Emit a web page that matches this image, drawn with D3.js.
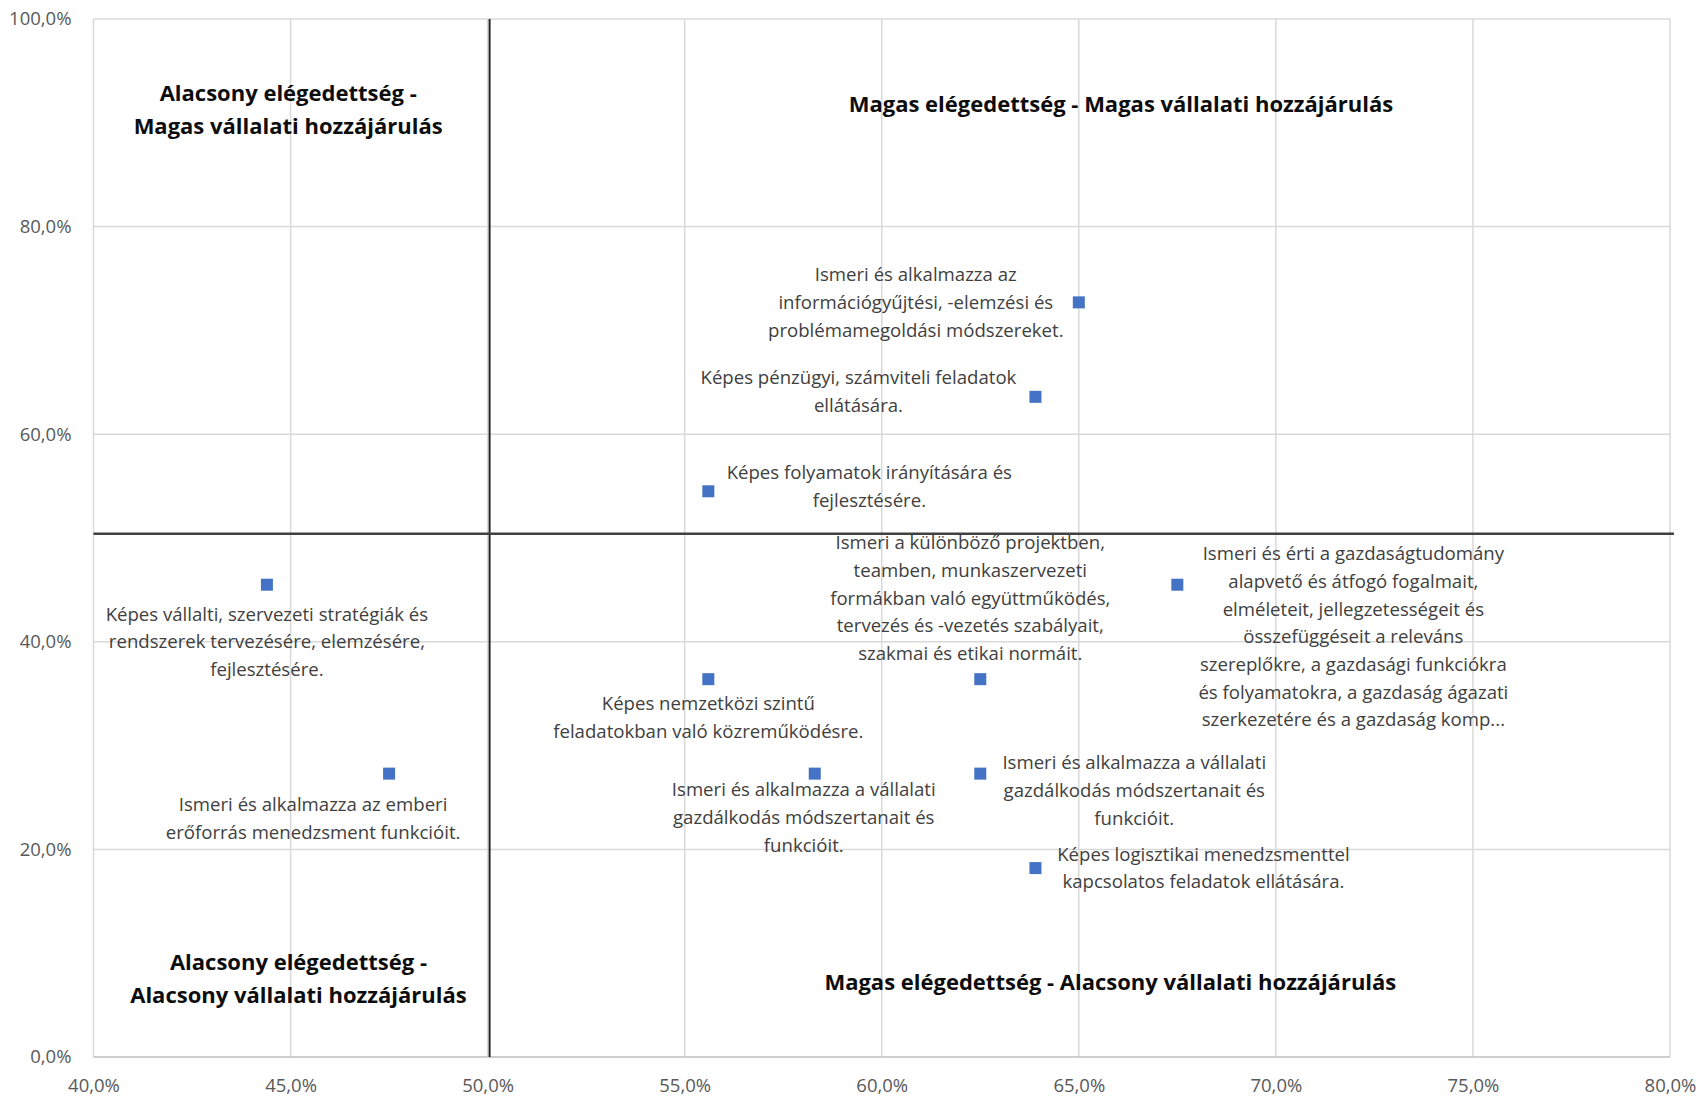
<!DOCTYPE html>
<html>
<head>
<meta charset="utf-8">
<script src="https://cdn.jsdelivr.net/npm/d3@7"></script>
<style>
  body { margin: 0; background: #fff; }
  svg { display: block; font-family: "Open Sans", "Noto Sans", sans-serif; }
</style>
</head>
<body>
<div id="chart"></div>
<script>
// satisfaction (x) and company contribution (y) per competency
const satisfaction = [0.650, 0.639, 0.556, 0.444, 0.475, 0.556, 0.583, 0.625, 0.625, 0.639, 0.675]
const contribution = [0.727, 0.636, 0.545, 0.455, 0.273, 0.364, 0.273, 0.364, 0.273, 0.182, 0.455]

const competencies = [
  ["Ismeri és alkalmazza az", "információgyűjtési, -elemzési és", "problémamegoldási módszereket."],
  ["Képes pénzügyi, számviteli feladatok", "ellátására."],
  ["Képes folyamatok irányítására és", "fejlesztésére."],
  ["Képes vállalti, szervezeti stratégiák és", "rendszerek tervezésére, elemzésére,", "fejlesztésére."],
  ["Ismeri és alkalmazza az emberi", "erőforrás menedzsment funkcióit."],
  ["Képes nemzetközi szintű", "feladatokban való közreműködésre."],
  ["Ismeri és alkalmazza a vállalati", "gazdálkodás módszertanait és", "funkcióit."],
  ["Ismeri a különböző projektben,", "teamben, munkaszervezeti", "formákban való együttműködés,", "tervezés és -vezetés szabályait,", "szakmai és etikai normáit."],
  ["Ismeri és alkalmazza a vállalati", "gazdálkodás módszertanait és", "funkcióit."],
  ["Képes logisztikai menedzsmenttel", "kapcsolatos feladatok ellátására."],
  ["Ismeri és érti a gazdaságtudomány", "alapvető és átfogó fogalmait,", "elméleteit, jellegzetességeit és", "összefüggéseit a releváns", "szereplőkre, a gazdasági funkciókra", "és folyamatokra, a gazdaság ágazati", "szerkezetére és a gazdaság komp..."]
]

const xTicks = [0.40, 0.45, 0.50, 0.55, 0.60, 0.65, 0.70, 0.75, 0.80]
const yTicks = [0, 0.2, 0.4, 0.6, 0.8, 1.0]

const quadrantTitles = [
  ["Alacsony elégedettség -", "Magas vállalati hozzájárulás"],
  ["Magas elégedettség - Magas vállalati hozzájárulás"],
  ["Alacsony elégedettség -", "Alacsony vállalati hozzájárulás"],
  ["Magas elégedettség - Alacsony vállalati hozzájárulás"]
]
const quadrantCenters = [[0.4494, 0.913], [0.6607, 0.918], [0.452, 0.075], [0.658, 0.072]]

const splitX = 0.5005
const splitY = 0.504

// data-label offsets (px) from each marker to the label block centre
const labelOffsets = [[-163, 0], [-177, -5], [161, -5], [0, 57], [-76, 45], [0, 38],
  [-11, 44], [-10, -81], [154, 17], [168, 0], [176, 52]]

const width = 1698, height = 1096
const margin = { top: 19, right: 28, bottom: 39, left: 93.5 }

const huLocale = d3.formatLocale({ decimal: ",", thousands: " ", grouping: [3], currency: ["", " Ft"] })
const pct = huLocale.format(".1%")

const svg = d3.select("#chart").append("svg")
  .attr("width", width)
  .attr("height", height)

const x = d3.scaleLinear().domain([0.4, 0.8]).range([margin.left, width - margin.right])
const y = d3.scaleLinear().domain([0, 1]).range([height - margin.bottom, margin.top])

// gridlines
svg.append("g").selectAll("line")
  .data(xTicks)
  .enter().append("line")
  .attr("x1", d => x(d)).attr("x2", d => x(d))
  .attr("y1", y(0)).attr("y2", y(1))
  .attr("stroke", "#d9d9d9").attr("stroke-width", 1.5)

svg.append("g").selectAll("line")
  .data(yTicks)
  .enter().append("line")
  .attr("x1", x(0.4)).attr("x2", x(0.8))
  .attr("y1", d => y(d)).attr("y2", d => y(d))
  .attr("stroke", d => d === 0 ? "#bfbfbf" : "#d9d9d9").attr("stroke-width", 1.5)

// axes (labels only, Excel style)
const xAxis = svg.append("g")
  .attr("transform", `translate(0,${y(0) + 19})`)
  .call(d3.axisBottom(x).tickValues(xTicks).tickFormat(pct).tickSize(0))
const yAxis = svg.append("g")
  .attr("transform", `translate(${x(0.4) - 19},0)`)
  .call(d3.axisLeft(y).tickValues(yTicks).tickFormat(pct).tickSize(0))

;[xAxis, yAxis].forEach(a => {
  a.select(".domain").remove()
  a.selectAll("text")
    .attr("fill", "#595959")
    .style("font-size", "18.5px")
    .style("font-family", "'Open Sans', 'Noto Sans', sans-serif")
})

// quadrant dividers
svg.append("line")
  .attr("x1", x(splitX)).attr("x2", x(splitX))
  .attr("y1", y(1)).attr("y2", y(0))
  .attr("stroke", "#262626").attr("stroke-width", 2)
svg.append("line")
  .attr("x1", x(0.4)).attr("x2", x(0.801))
  .attr("y1", y(splitY)).attr("y2", y(splitY))
  .attr("stroke", "#404040").attr("stroke-width", 2.5)

// quadrant titles
const titleLine = 33
svg.append("g").selectAll("text")
  .data(quadrantTitles)
  .enter().append("text")
  .attr("text-anchor", "middle")
  .attr("font-weight", "bold")
  .attr("font-size", "22px")
  .attr("fill", "#0d0d0d")
  .each(function(lines, i) {
    const cx = x(quadrantCenters[i][0])
    const cy = y(quadrantCenters[i][1]) - (lines.length - 1) * titleLine / 2
    d3.select(this).selectAll("tspan")
      .data(lines)
      .enter().append("tspan")
      .attr("x", cx)
      .attr("y", (d, j) => cy + j * titleLine)
      .attr("dy", "0.35em")
      .text(d => d)
  })

// points
const points = satisfaction.map((s, i) => ({ x: s, y: contribution[i], label: competencies[i], off: labelOffsets[i] }))
const size = 12

svg.append("g").selectAll("rect")
  .data(points)
  .enter().append("rect")
  .attr("x", d => x(d.x) - size / 2)
  .attr("y", d => y(d.y) - size / 2)
  .attr("width", size).attr("height", size)
  .attr("fill", "#4472c4")

// data labels
const lineH = 27.7
svg.append("g").selectAll("text")
  .data(points)
  .enter().append("text")
  .attr("text-anchor", "middle")
  .attr("font-size", "18.6px")
  .attr("fill", "#404040")
  .each(function(d) {
    const cx = x(d.x) + d.off[0]
    const cy = y(d.y) + d.off[1] - (d.label.length - 1) * lineH / 2
    d3.select(this).selectAll("tspan")
      .data(d.label)
      .enter().append("tspan")
      .attr("x", cx)
      .attr("y", (t, j) => cy + j * lineH)
      .attr("dy", "0.35em")
      .text(t => t)
  })
</script>
</body>
</html>
